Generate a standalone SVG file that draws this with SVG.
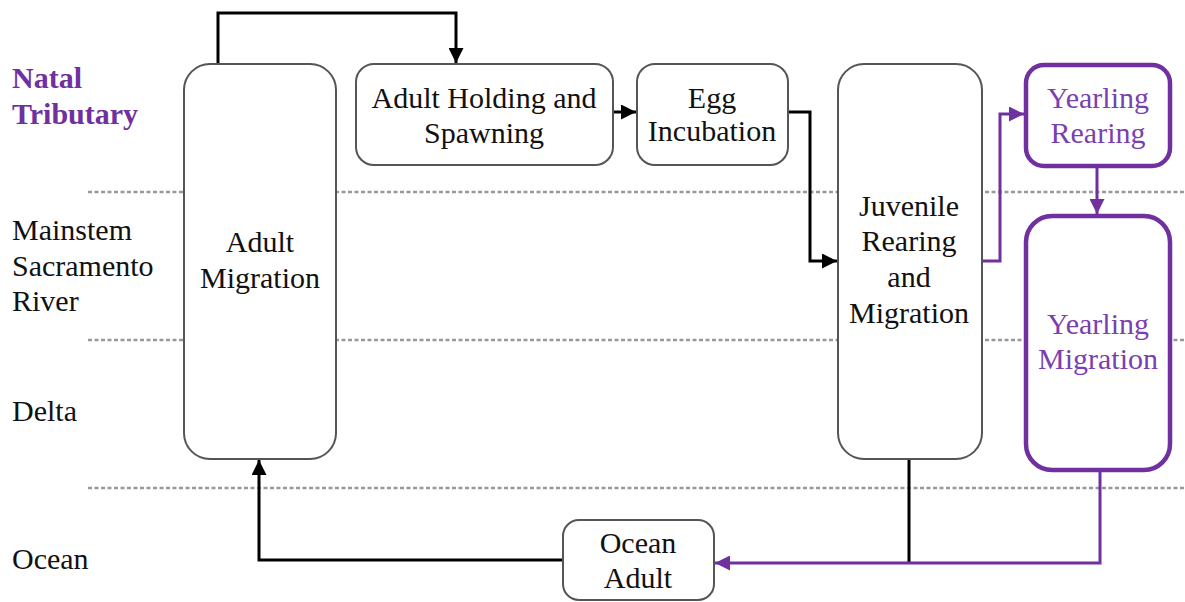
<svg xmlns="http://www.w3.org/2000/svg" width="1185" height="602" viewBox="0 0 1185 602">
<defs>
<marker id="ab" viewBox="0 0 10 10" refX="10" refY="5" markerWidth="5" markerHeight="5" markerUnits="strokeWidth" orient="auto"><path d="M0,0 L10,5 L0,10 z" fill="#000"/></marker>
<marker id="ap" viewBox="0 0 10 10" refX="10" refY="5" markerWidth="5" markerHeight="5" markerUnits="strokeWidth" orient="auto"><path d="M0,0 L10,5 L0,10 z" fill="#7030A0"/></marker>
</defs>
<rect width="1185" height="602" fill="#fff"/>
<g id="lanes" stroke="#999" stroke-width="2.5" stroke-dasharray="4 2.5">
<line x1="88" y1="192" x2="1185" y2="192"/>
<line x1="88" y1="340" x2="1185" y2="340"/>
<line x1="88" y1="488" x2="1185" y2="488"/>
</g>
<g id="lane-labels">
<text x="12" y="88" style="font-family:'Liberation Serif';font-size:30px;font-weight:bold;fill:#7030A0">Natal</text>
<text x="12" y="124" style="font-family:'Liberation Serif';font-size:30px;font-weight:bold;fill:#7030A0">Tributary</text>
<text x="12" y="240" style="font-family:'Liberation Serif';font-size:30px;fill:#111">Mainstem</text>
<text x="12" y="276" style="font-family:'Liberation Serif';font-size:30px;fill:#111">Sacramento</text>
<text x="12" y="311" style="font-family:'Liberation Serif';font-size:30px;fill:#111">River</text>
<text x="12" y="421" style="font-family:'Liberation Serif';font-size:30px;fill:#111">Delta</text>
<text x="12" y="569" style="font-family:'Liberation Serif';font-size:30px;fill:#111">Ocean</text>
</g>
<g id="connectors" fill="none" stroke-width="3">
<g stroke="#000">
<polyline points="218,64 218,13 456,13 456,63" marker-end="url(#ab)"/>
<line x1="613" y1="112" x2="636" y2="112" marker-end="url(#ab)"/>
<polyline points="788,112 810,112 810,261 837,261" marker-end="url(#ab)"/>
<line x1="909" y1="459" x2="909" y2="563"/>
<polyline points="563,560 259,560 259,460" marker-end="url(#ab)"/>
</g>
<g stroke="#7030A0">
<polyline points="982,261 1000,261 1000,114 1024,114" marker-end="url(#ap)"/>
<line x1="1097" y1="166" x2="1097" y2="214" marker-end="url(#ap)"/>
<polyline points="1100,470 1100,563 715,563" marker-end="url(#ap)"/>
</g>
</g>
<g id="adult-migration">
<rect x="184" y="64" width="152" height="395" rx="26" fill="#fff" stroke="#555" stroke-width="2"/>
<text x="260" y="252" text-anchor="middle" style="font-family:'Liberation Serif';font-size:30px;fill:#111">Adult</text>
<text x="260" y="288" text-anchor="middle" style="font-family:'Liberation Serif';font-size:30px;fill:#111">Migration</text>
</g>
<g id="adult-holding">
<rect x="356" y="64" width="257" height="101" rx="18" fill="#fff" stroke="#555" stroke-width="2"/>
<text x="484" y="108" text-anchor="middle" style="font-family:'Liberation Serif';font-size:30px;fill:#111">Adult Holding and</text>
<text x="484" y="143" text-anchor="middle" style="font-family:'Liberation Serif';font-size:30px;fill:#111">Spawning</text>
</g>
<g id="egg-incubation">
<rect x="637" y="64" width="151" height="101" rx="18" fill="#fff" stroke="#555" stroke-width="2"/>
<text x="712" y="108" text-anchor="middle" style="font-family:'Liberation Serif';font-size:30px;fill:#111">Egg</text>
<text x="712" y="141" text-anchor="middle" style="font-family:'Liberation Serif';font-size:30px;fill:#111">Incubation</text>
</g>
<g id="juvenile">
<rect x="838" y="64" width="144" height="395" rx="26" fill="#fff" stroke="#555" stroke-width="2"/>
<text x="909" y="216" text-anchor="middle" style="font-family:'Liberation Serif';font-size:30px;fill:#111">Juvenile</text>
<text x="909" y="251" text-anchor="middle" style="font-family:'Liberation Serif';font-size:30px;fill:#111">Rearing</text>
<text x="909" y="287" text-anchor="middle" style="font-family:'Liberation Serif';font-size:30px;fill:#111">and</text>
<text x="909" y="323" text-anchor="middle" style="font-family:'Liberation Serif';font-size:30px;fill:#111">Migration</text>
</g>
<g id="yearling-rearing">
<rect x="1026" y="65" width="144" height="101" rx="18" fill="#fff" stroke="#7030A0" stroke-width="4.5"/>
<text x="1098" y="108" text-anchor="middle" style="font-family:'Liberation Serif';font-size:30px;fill:#7a3fb0">Yearling</text>
<text x="1098" y="143" text-anchor="middle" style="font-family:'Liberation Serif';font-size:30px;fill:#7a3fb0">Rearing</text>
</g>
<g id="yearling-migration">
<rect x="1026" y="216" width="144" height="254" rx="26" fill="#fff" stroke="#7030A0" stroke-width="4.5"/>
<text x="1098" y="334" text-anchor="middle" style="font-family:'Liberation Serif';font-size:30px;fill:#7a3fb0">Yearling</text>
<text x="1098" y="369" text-anchor="middle" style="font-family:'Liberation Serif';font-size:30px;fill:#7a3fb0">Migration</text>
</g>
<g id="ocean-adult">
<rect x="563" y="520" width="151" height="80" rx="16" fill="#fff" stroke="#555" stroke-width="2"/>
<text x="638" y="553" text-anchor="middle" style="font-family:'Liberation Serif';font-size:30px;fill:#111">Ocean</text>
<text x="638" y="588" text-anchor="middle" style="font-family:'Liberation Serif';font-size:30px;fill:#111">Adult</text>
</g>
</svg>
